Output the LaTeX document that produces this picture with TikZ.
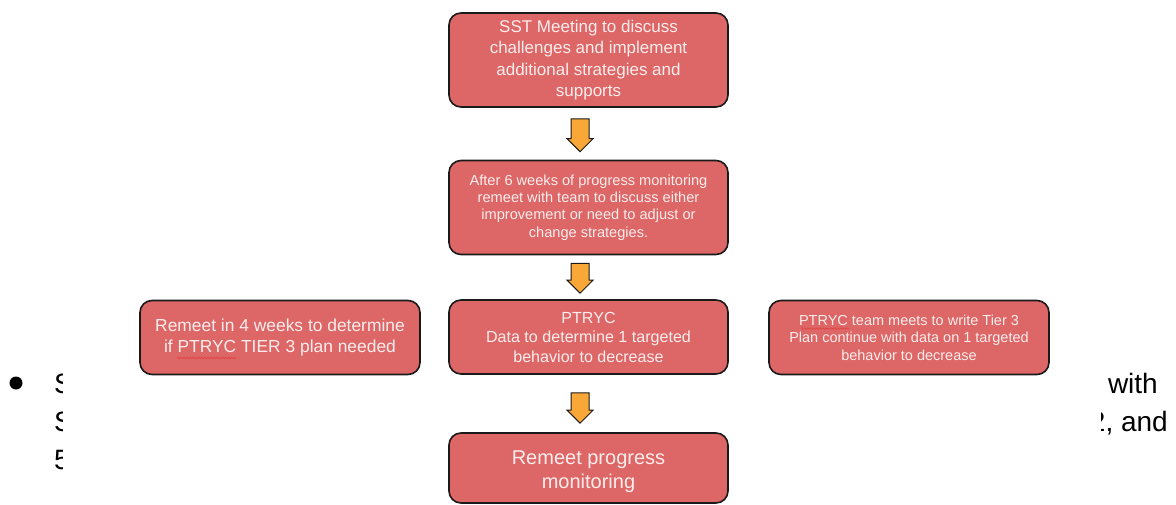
\documentclass[tikz,border=0pt]{standalone}
\usepackage{fontspec}
\setmainfont{Liberation Sans}
\usetikzlibrary{calc,decorations.pathmorphing}
\definecolor{boxfill}{HTML}{DD6666}
\definecolor{boxtext}{HTML}{FDEDED}
\definecolor{arrfill}{HTML}{F9A838}
\definecolor{edgecol}{HTML}{1A1A1A}
\definecolor{squigcol}{HTML}{E04040}
\newcommand\blockarrow[2]{\draw[blockarr] ($(#1)+(-9,0)$) -- ($(#1)+(9,0)$) -- ($(#2)+(9,-13)$) -- ($(#2)+(13,-13)$) -- (#2) -- ($(#2)+(-13,-13)$) -- ($(#2)+(-9,-13)$) -- cycle;}
\tikzset{
  flowbox/.style={draw=edgecol, line width=1.6pt, fill=boxfill, rounded corners=12pt,
    text=boxtext, align=center, inner sep=0pt},
  boxlabel/.style={text=boxtext, align=center, inner sep=0pt},
  blockarr/.style={draw=edgecol, line width=1pt, fill=arrfill, line join=miter},
  bgtext/.style={font=\fontsize{28}{34}\selectfont, text=black, inner sep=0pt},
  squig/.style={draw=squigcol, line width=0.6pt, decorate,
    decoration={snake, amplitude=0.8pt, segment length=3pt}}
}
\begin{document}
\begin{tikzpicture}[x=1pt,y=-1pt]
\useasboundingbox (0,0) rectangle (1176,504);
% background bullet text (clipped fragments)
\fill[black] (16,383) circle (6.5);
\begin{scope}
  \clip (40,355) rectangle (62,490);
  \node[bgtext, anchor=base west] (l1) at (54,393) {S};
  \node[bgtext, anchor=base west] (l2) at (54,431) {S};
  \node[bgtext, anchor=base west] (l3) at (54,469) {5};
\end{scope}
\begin{scope}
  \clip (1101,355) rectangle (1176,490);
  \node[bgtext, anchor=base east] (r1) at (1158,393) {with};
  \node[bgtext, anchor=base east] (r2) at (1168,431) {2, and};
\end{scope}
% boxes
\node[flowbox, minimum width=279, minimum height=94, font=\fontsize{17}{21.5}\selectfont]
  (b1) at (588.5,60) {SST Meeting to discuss\\challenges and implement\\additional strategies and\\supports};
\node[flowbox, minimum width=279, minimum height=94, font=\fontsize{14.6}{17.2}\selectfont]
  (b2) at (588.5,207.5) {After 6 weeks of progress monitoring\\remeet with team to discuss either\\improvement or need to adjust or\\change strategies.};
\node[flowbox, minimum width=279, minimum height=74, font=\fontsize{16.1}{19.5}\selectfont]
  (b3) at (588.5,337) {PTRYC\\Data to determine 1 targeted\\behavior to decrease};
\node[flowbox, minimum width=280, minimum height=74, font=\fontsize{17.4}{21}\selectfont]
  (bl) at (280,337.5) {Remeet in 4 weeks to determine\\if PTRYC TIER 3 plan needed};
\node[flowbox, minimum width=280, minimum height=74, font=\fontsize{14.5}{17.5}\selectfont]
  (br) at (909,337.5) {PTRYC team meets to write Tier 3\\Plan continue with data on 1 targeted\\behavior to decrease};
\node[flowbox, minimum width=279, minimum height=70] (b4) at (588.5,468) {};
\node[boxlabel, font=\fontsize{20}{24}\selectfont] (b4text) at ($(b4.center)+(0,3.5)$) {Remeet progress\\monitoring};
% spell-check squiggles
\draw[squig] ($(bl.center)+(-103,20.5)$) -- ($(bl.center)+(-44,20.5)$);
\draw[squig] ($(br.center)+(-108,-9)$) -- ($(br.center)+(-60,-9)$);
% block arrows
\coordinate (a1t) at ($(b1.south)+(-8.5,11)$);
\coordinate (a1b) at ($(b2.north)+(-8.5,-8)$);
\coordinate (a2t) at ($(b2.south)+(-8.5,8)$);
\coordinate (a2b) at ($(b3.north)+(-8.5,-6)$);
\coordinate (a3t) at ($(b3.south)+(-8.5,18)$);
\coordinate (a3b) at ($(b4.north)+(-8.5,-9)$);
\blockarrow{a1t}{a1b}
\blockarrow{a2t}{a2b}
\blockarrow{a3t}{a3b}
\end{tikzpicture}
\end{document}
